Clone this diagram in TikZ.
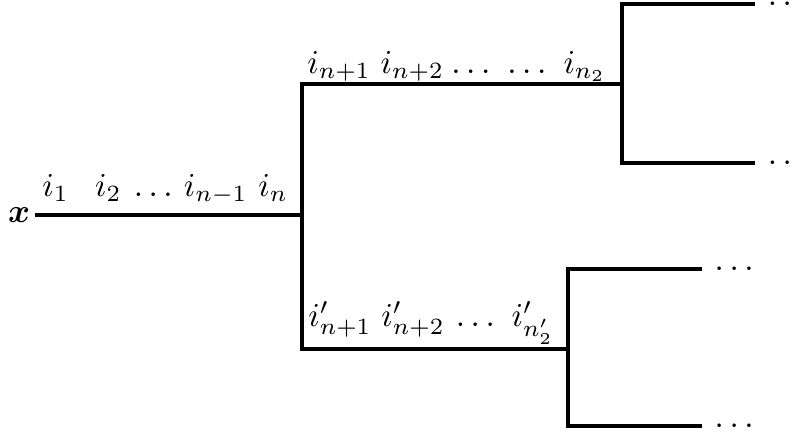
\documentclass[tikz,border=0pt]{standalone}
\usepackage{amsmath}
\usepackage{amssymb}
\usepackage{bm}
\usetikzlibrary{calc}

\tikzset{lab/.style={anchor=base, inner sep=0pt}}

\begin{document}
\begin{tikzpicture}[line width=1pt]
		\useasboundingbox (0,0) rectangle (8.346,4.605);
%		trunk
		\coordinate (s) at (0.369,2.339);
		\coordinate (a) at (3.182,2.339);
		\coordinate (au) at (3.182,3.720);
		\coordinate (al) at (3.182,0.927);
%		upper branch
		\coordinate (b) at (6.554,3.720);
		\coordinate (bu) at (6.554,4.563);
		\coordinate (bl) at (6.554,2.887);
		\coordinate (bue) at (7.956,4.563);
		\coordinate (ble) at (7.956,2.887);
%		lower branch
		\coordinate (c) at (5.985,0.927);
		\coordinate (cu) at (5.985,1.770);
		\coordinate (cl) at (5.985,0.116);
		\coordinate (cue) at (7.397,1.770);
		\coordinate (cle) at (7.397,0.116);

		\node [left, inner sep=1pt] (x) at (s) {$\bm{x}$};
		\draw (s) -- 
		node [lab, pos=0.077, yshift=0.2cm] (m1) {$i_1$}
		node [lab, pos=0.275, yshift=0.2cm] (m2) {$i_2$}
		node [lab, pos=0.443, yshift=0.2cm] (m3) {$\ldots$}
		node [lab, pos=0.677, yshift=0.2cm] (m4) {$i_{n-1}$}
		node [lab, pos=0.892, yshift=0.2cm] (m5) {$i_n$}
		(a);
		
		\draw (b) -- 
		node [lab, pos=0.116, yshift=0.115cm] (u5) {$i_{n_2}$}
		node [lab, pos=0.297, yshift=0.115cm] (u4) {$\ldots$}
		node [lab, pos=0.472, yshift=0.115cm] (u3) {$\ldots$}
		node [lab, pos=0.655, yshift=0.115cm] (u2) {$i_{n+2}$}
		node [lab, pos=0.884, yshift=0.115cm] (u1) {$i_{n+1}$}
		(au) -- (al) -- 
		node [lab, pos=0.143, yshift=0.24cm] (l1) {$i'_{n+1}$}
		node [lab, pos=0.418, yshift=0.24cm] (l2) {$i'_{n+2}$}
		node [lab, pos=0.652, yshift=0.24cm] (l3) {$\ldots$}
		node [lab, pos=0.868, yshift=0.24cm] (l4) {$i'_{n'_2}$}
		(c);
		
		\draw (bue) -- (bu) -- (bl) -- (ble);
		\draw (cue) -- (cu) -- (cl) -- (cle);
		
		\node [right] (d1) at (bue) {$\ldots$};
		\node [right] (d2) at (ble) {$\ldots$};
		\node [right] (d3) at (cue) {$\ldots$};
		\node [right] (d4) at (cle) {$\ldots$};
	\end{tikzpicture}
\end{document}
